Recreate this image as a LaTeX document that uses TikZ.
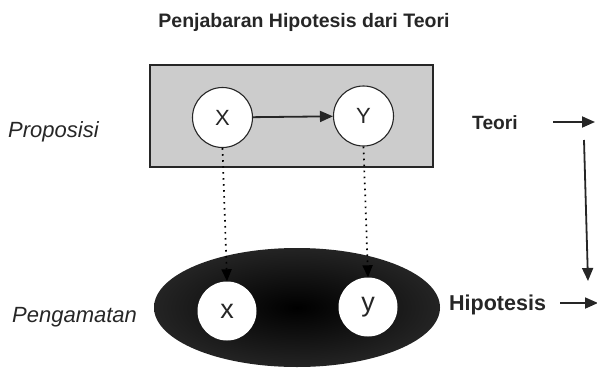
\documentclass[tikz,border=0pt]{standalone}
\usepackage{fontspec}
\setmainfont{Liberation Sans}
\usetikzlibrary{shapes.geometric,arrows.meta}
\definecolor{ink}{gray}{0.15}
\definecolor{boxgray}{gray}{0.80}
\tikzset{
  lbl/.style={inner sep=0pt, text=ink},
  bigcirc/.style={circle, draw=ink, line width=1.1pt, fill=white, minimum size=60pt, inner sep=0pt,
     font=\fontsize{22}{22}\selectfont, text=ink},
  smallcirc/.style={circle, fill=white, minimum size=59pt, inner sep=0pt,
     font=\fontsize{27}{27}\selectfont, text=ink},
  arr/.style={draw=ink, line width=1.8pt, -{Triangle[length=13pt,width=11pt]}},
  dots/.style={draw=black, line width=1.7pt, dash pattern=on 1.7pt off 4.3pt,
     -{Triangle[length=12pt,width=10pt]}},
}
\begin{document}
\begin{tikzpicture}[x=1pt,y=-1pt]
\useasboundingbox (0,0) rectangle (597,370);
% title
\node[lbl, anchor=base, font=\fontsize{19.5}{20}\selectfont\bfseries] (title) at (304,27) {Penjabaran Hipotesis dari Teori};
% theory box
\node[draw=ink, line width=1.1pt, fill=boxgray, minimum width=283pt, minimum height=102pt, inner sep=0pt] (box) at (291.5,116) {};
\node[bigcirc] (X) at (222.5,117.5) {X};
\node[bigcirc] (Y) at (363.5,116) {Y};
\draw[arr] (X) -- (Y);
% observation ellipse
\node[ellipse, minimum width=286pt, minimum height=119pt, inner sep=0pt,
      inner color=black, outer color=black!86] (obs) at (297,307.5) {};
\node[smallcirc] (x) at (227,311) {x};
\node[smallcirc] (y) at (368,307) {y};
\draw[dots] (X.south) -- (x.north);
\draw[dots] (Y.south) -- (y.north);
% side labels
\node[lbl, anchor=base west, font=\fontsize{22}{22}\selectfont\itshape] (prop) at (8,137) {Proposisi};
\node[lbl, anchor=base west, font=\fontsize{22}{22}\selectfont\itshape] (peng) at (12,322) {Pengamatan};
\node[lbl, anchor=base west, font=\fontsize{19.2}{20}\selectfont\bfseries] (teori) at (472,129) {Teori};
\node[lbl, anchor=base west, font=\fontsize{21.5}{22}\selectfont\bfseries] (hipo) at (449,310) {Hipotesis};
% right arrows
\coordinate (t1) at (553,122);
\coordinate (t2) at (595,122);
\coordinate (v1) at (584,140);
\coordinate (v2) at (588,281);
\coordinate (h1) at (560,303);
\coordinate (h2) at (598,303);
\draw[arr] (t1) -- (t2);
\draw[arr] (v1) -- (v2);
\draw[arr] (h1) -- (h2);
\end{tikzpicture}
\end{document}
